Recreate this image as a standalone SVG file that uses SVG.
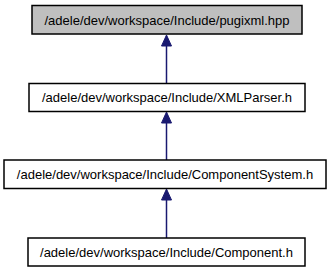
<svg xmlns="http://www.w3.org/2000/svg" width="333" height="272" viewBox="0 0 333 272">
  <style>
    .box { fill: #ffffff; stroke: #000000; stroke-width: 1.5; }
    .box.root { fill: #bfbfbf; }
    .label { font-family: "Liberation Sans", Arial, Helvetica, sans-serif; font-size: 13px; fill: #000000; text-anchor: middle; }
    .edge { stroke: #191970; stroke-width: 1.5; fill: none; }
    .head { fill: #191970; stroke: #191970; stroke-width: 1; }
  </style>
  <rect width="333" height="272" fill="#ffffff"/>

  <g id="connectors">
    <line class="edge" x1="166.5" y1="84" x2="166.5" y2="46"/>
    <polygon class="head" points="161.5,46 166.5,35 171.5,46"/>
    <line class="edge" x1="166.5" y1="160" x2="166.5" y2="123"/>
    <polygon class="head" points="161.5,123 166.5,112 171.5,123"/>
    <line class="edge" x1="166.5" y1="238" x2="166.5" y2="200"/>
    <polygon class="head" points="161.5,200 166.5,189 171.5,200"/>
  </g>

  <g id="node-pugixml">
    <rect class="box root" x="32" y="5.5" width="270" height="28.5"/>
    <text class="label" x="167" y="24.5">/adele/dev/workspace/Include/pugixml.hpp</text>
  </g>

  <g id="node-xmlparser">
    <rect class="box" x="29" y="83.5" width="276" height="28"/>
    <text class="label" x="167" y="102">/adele/dev/workspace/Include/XMLParser.h</text>
  </g>

  <g id="node-componentsystem">
    <rect class="box" x="4" y="160" width="322" height="28.5"/>
    <text class="label" x="165" y="178.5">/adele/dev/workspace/Include/ComponentSystem.h</text>
  </g>

  <g id="node-component">
    <rect class="box" x="28" y="238" width="277" height="28"/>
    <text class="label" x="166.5" y="256.5">/adele/dev/workspace/Include/Component.h</text>
  </g>
</svg>
